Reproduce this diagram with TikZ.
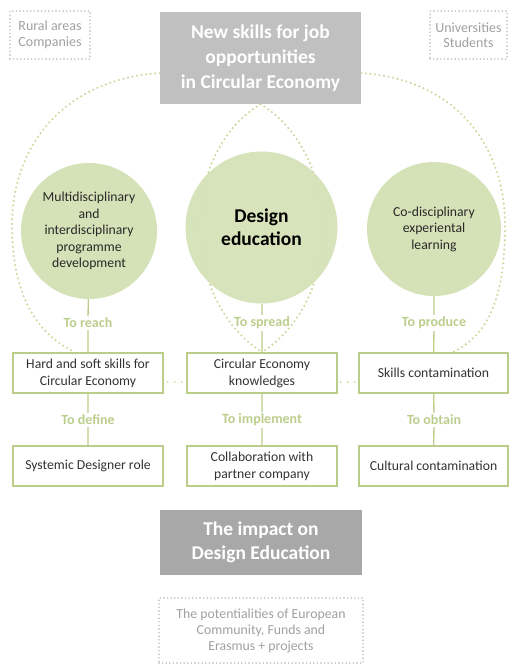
\documentclass[tikz,border=0pt]{standalone}
\usepackage{fontspec}
\setmainfont{Carlito}
\usetikzlibrary{backgrounds}

\definecolor{leafgreen}{RGB}{186,206,138}
\definecolor{labelgreen}{RGB}{186,206,140}
\definecolor{dotgreen}{RGB}{200,217,155}
\definecolor{circlefill}{RGB}{213,226,183}
\definecolor{titlegray}{RGB}{192,192,192}
\definecolor{impactgray}{RGB}{168,168,168}
\definecolor{dotgray}{RGB}{178,178,178}
\definecolor{notegray}{RGB}{160,160,160}
\definecolor{darktext}{RGB}{40,40,40}
\definecolor{boxtext}{RGB}{50,50,50}

\begin{document}
\begin{tikzpicture}[x=1pt, y=-1pt,
    circlenode/.style={circle, fill=circlefill, text=darktext, align=center, inner sep=0pt, font=\fontsize{13.7}{16.5}\selectfont},
    skillbox/.style={draw=leafgreen, line width=1.3pt, minimum width=150pt, minimum height=40pt, align=center, text=boxtext, font=\fontsize{13.7}{17}\selectfont},
    tolabel/.style={text=labelgreen, inner sep=2pt, font=\bfseries\fontsize{14}{16}\selectfont},
    titlebox/.style={fill=titlegray, text=white, align=center, font=\bfseries\fontsize{19.5}{25}\selectfont},
    notebox/.style={draw=dotgray, dash pattern=on 0pt off 3.6pt, line cap=round, line width=1.6pt, align=center, text=notegray, font=\fontsize{13.8}{16}\selectfont},
    greendots/.style={draw=dotgreen, dash pattern=on 0pt off 4.6pt, line cap=round, line width=2.3pt}]
    \useasboundingbox (0,0) rectangle (509,664);

    % Define partners and title
    \node[notebox, minimum width=80pt, minimum height=48pt, font=\fontsize{14}{15.5}\selectfont] (rural) at (50,35) {Rural areas\\Companies};
    \node[notebox, minimum width=77pt, minimum height=48pt, font=\fontsize{14}{15.5}\selectfont] (univ) at (468.5,35) {Universities\\Students};
    \node[titlebox, minimum width=201pt, minimum height=92pt] (title) at (260.5,58) {New skills for job\\opportunities\\in Circular Economy};

    % Define circles
    \node[circlenode, minimum size=136pt] (multi) at (89,231) {Multidisciplinary\\and\\interdisciplinary\\programme\\development};
    \node[circlenode, minimum size=152pt, fill opacity=0.95, text opacity=1, font=\bfseries\fontsize{19.5}{23}\selectfont, text=black] (design) at (261.5,227.5) {Design\\education};
    \node[circlenode, minimum size=134pt] (codis) at (434,229) {Co-disciplinary\\experiental\\learning};

    % Define first labels
    \node[tolabel] (reach) at (88,323) {To reach};
    \node[tolabel] (spread) at (262,323) {To spread};
    \node[tolabel] (produce) at (434,323) {To produce};

    % Define first row of boxes
    \node[skillbox] (hard) at (88,373) {Hard and soft skills for\\Circular Economy};
    \node[skillbox] (know) at (262,373) {Circular Economy\\knowledges};
    \node[skillbox, minimum width=149pt] (skills) at (433.5,373) {Skills contamination};

    % Define second labels
    \node[tolabel] (define) at (88,420) {To define};
    \node[tolabel] (implement) at (262,420) {To implement};
    \node[tolabel] (obtain) at (434,420) {To obtain};

    % Define second row of boxes
    \node[skillbox] (role) at (88,466) {Systemic Designer role};
    \node[skillbox] (collab) at (262,466) {Collaboration with\\partner company};
    \node[skillbox, minimum width=149pt] (cultural) at (433.5,466) {Cultural contamination};

    % Define impact and funds
    \node[titlebox, fill=impactgray, minimum width=202pt, minimum height=65pt, font=\bfseries\fontsize{19.5}{24}\selectfont] (impact) at (261,542.5) {The impact on\\Design Education};
    \node[notebox, minimum width=204pt, minimum height=65pt] (funds) at (261,630.5) {The potentialities of European\\Community, Funds and\\Erasmus + projects};

    % Draw dotted loops
    \begin{scope}[on background layer]
        \coordinate (lfar) at (12,225);
        \coordinate (rfar) at (505,225);
        \draw[greendots] ([yshift=-15pt]title.west) .. controls +(-100,7) and +(0,-75) .. (lfar) .. controls +(0,75) and +(-35,-17) .. ([xshift=-13pt]hard.north); % Left loop
        \draw[greendots] ([yshift=-15pt]title.east) .. controls +(99,7) and +(0,-75) .. (rfar) .. controls +(0,75) and +(35,-17) .. ([xshift=19pt]skills.north); % Right loop
        \draw[greendots] (title.south) .. controls +(-80,48) and +(-84,-55) .. (know.north); % Lens left
        \draw[greendots] (title.south) .. controls +(80,48) and +(84,-55) .. (know.north); % Lens right
    \end{scope}

    % Draw edges
    \draw[leafgreen, line width=1.3pt] (multi) -- (reach) -- (hard) -- (define) -- (role);
    \draw[leafgreen, line width=1.3pt] (design) -- (spread) -- (know) -- (implement) -- (collab);
    \draw[leafgreen, line width=1.3pt] (codis) -- (produce) -- (skills) -- (obtain) -- (cultural);
    \draw[greendots, line width=1.8pt, dash pattern=on 0pt off 7pt, shorten <=4pt] ([yshift=-9pt]hard.east) -- ([yshift=-9pt]know.west); % Dots 1 - 2
    \draw[greendots, line width=1.8pt, dash pattern=on 0pt off 7pt, shorten <=3pt] ([yshift=-9pt]know.east) -- ([yshift=-9pt]skills.west); % Dots 2 - 3
\end{tikzpicture}
\end{document}
